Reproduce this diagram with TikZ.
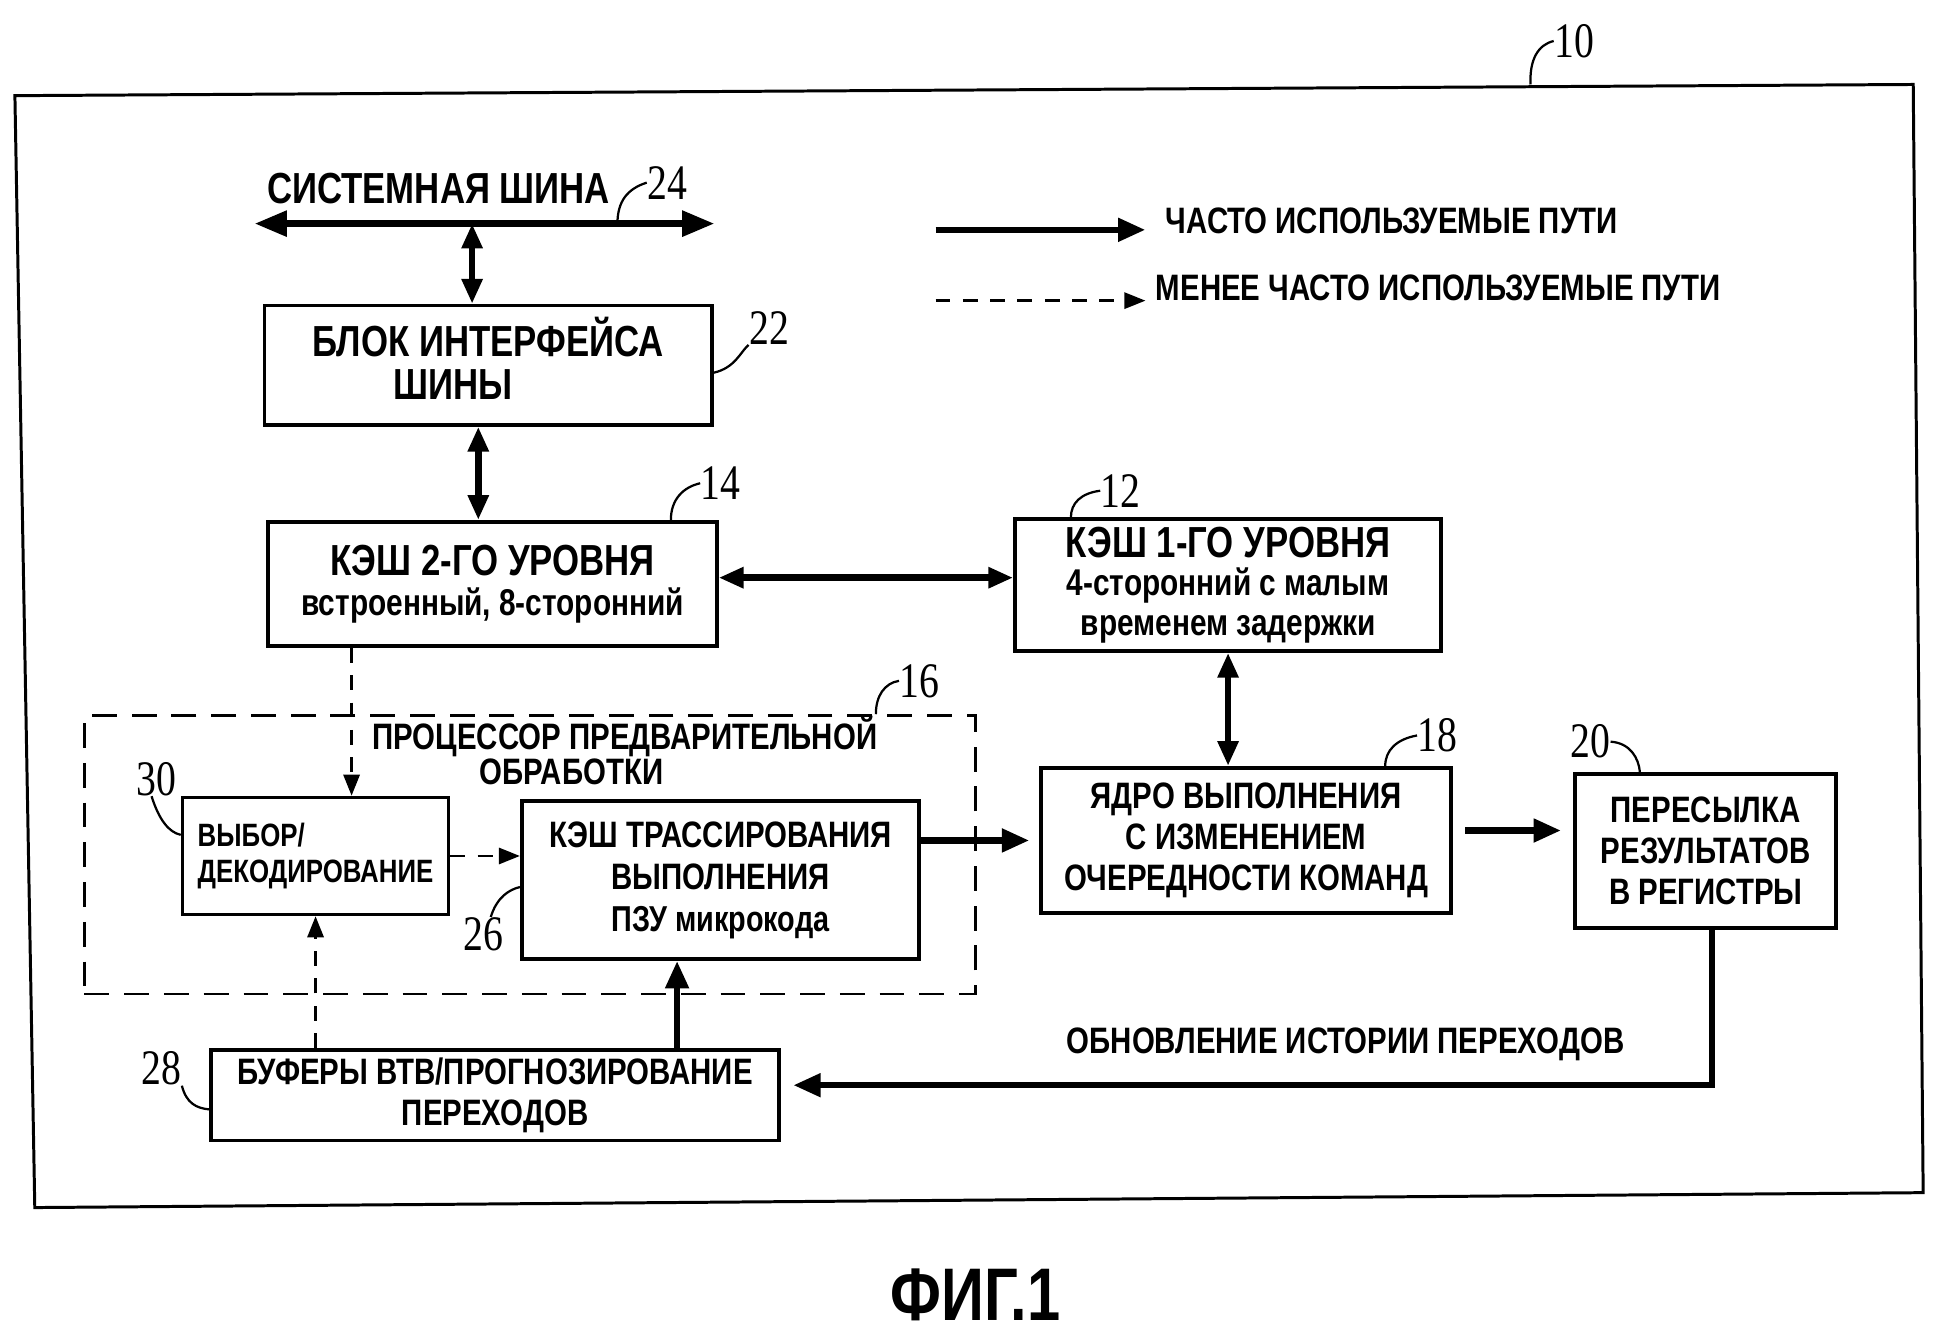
\documentclass[tikz,border=0pt]{standalone}
\usepackage{fontspec}
\setmainfont{Liberation Sans}[FakeStretch=0.8]
\newfontfamily\numfont{Liberation Serif}[FakeStretch=0.8]
\usetikzlibrary{arrows.meta}
\tikzset{
 box/.style={draw, line width=1.5pt, inner sep=0pt, align=center, font=\bfseries\fontsize{14.8}{16.5}\selectfont},
 thk/.style={line width=2.6pt, -{Triangle[length=11pt,width=9pt]}},
 dbl/.style={line width=2.6pt, {Triangle[length=10pt,width=8pt]}-{Triangle[length=10pt,width=8pt]}},
 busarr/.style={line width=2.6pt, {Triangle[length=13pt,width=10pt]}-{Triangle[length=13pt,width=10pt]}},
 dsh/.style={line width=1.1pt, dash pattern=on 6pt off 5pt, -{Triangle[length=8.5pt,width=6.5pt]}},
 frame16/.style={draw, line width=1.1pt, dash pattern=on 10pt off 6pt, inner sep=0pt},
 num/.style={font=\numfont\fontsize{20}{20}\selectfont, inner sep=0pt},
 lead/.style={line width=0.9pt},
 lbl/.style={font=\bfseries\fontsize{14.8}{14}\selectfont, inner sep=0pt, align=center},
}
\begin{document}
\begin{tikzpicture}[x=0.5pt,y=-0.5pt]
\useasboundingbox (0,0) rectangle (1568,1075);
% outer frame 10
\draw[line width=1.2pt] (12,77) -- (1540,68) -- (1548,960) -- (28,972) -- cycle;
\node[num] (n10) at (1267,33) {10};
\draw[lead] (1232,68) .. controls (1231,48) and (1238,36) .. (n10.west);

% system bus
\node[lbl, font=\bfseries\fontsize{17.5}{17.5}\selectfont] (sysbus) at (353,152) {СИСТЕМНАЯ ШИНА};
\coordinate (busL) at (205,180);
\coordinate (busR) at (575,180);
\coordinate (busJ) at (380,180);
\draw[busarr] (busL) -- (busR);
\node[num] (n24) at (537,147) {24};
\draw[lead] (497,180) .. controls (497,162) and (505,152) .. (n24.west);

% legend
\coordinate (lgA1) at (753,185);
\coordinate (lgA2) at (922,185);
\draw[thk] (lgA1) -- (lgA2);
\node[lbl, anchor=west] (lgT1) at (938,178) {ЧАСТО ИСПОЛЬЗУЕМЫЕ ПУТИ};
\coordinate (lgB1) at (753,242);
\coordinate (lgB2) at (922,242);
\draw[dsh] (lgB1) -- (lgB2);
\node[lbl, anchor=west] (lgT2) at (930,232) {МЕНЕЕ ЧАСТО ИСПОЛЬЗУЕМЫЕ ПУТИ};

% box 22
\node[box, minimum width=180pt, minimum height=48pt, font=\bfseries\fontsize{17.5}{17.5}\selectfont] (b22) at (393,294) {БЛОК ИНТЕРФЕЙСА\\ШИНЫ\hspace{28pt}\mbox{}\\[-12pt]\mbox{}};
\node[num] (n22) at (619,264) {22};
\draw[lead] ([yshift=-3pt]b22.east) .. controls (592,296) and (596,283) .. (n22.south west);

% box 14
\node[box, minimum width=180.5pt, minimum height=50pt, font=\bfseries\fontsize{17.5}{16}\selectfont] (b14) at (396.5,470) {КЭШ 2-ГО УРОВНЯ\\{\fontsize{15}{16}\selectfont встроенный, 8-сторонний}};
\node[num] (n14) at (580,389) {14};
\draw[lead] ([xshift=71.75pt]b14.north) .. controls (540,402) and (550,392) .. (n14.west);

% box 12
\node[box, minimum width=171.5pt, minimum height=53pt, font=\bfseries\fontsize{17.5}{16}\selectfont] (b12) at (988.5,471) {КЭШ 1-ГО УРОВНЯ\\[-0.8pt]{\fontsize{15}{16}\selectfont 4-сторонний с малым}\\{\fontsize{15}{16}\selectfont временем задержки}};
\node[num] (n12) at (902,395) {12};
\draw[lead] ([xshift=-63.25pt]b12.north) .. controls (862,405) and (870,397) .. (n12.west);

% box 18
\node[box, minimum width=165pt, minimum height=58.5pt] (b18) at (1003,676.5) {ЯДРО ВЫПОЛНЕНИЯ\\С ИЗМЕНЕНИЕМ\\ОЧЕРЕДНОСТИ КОМАНД};
\node[num] (n18) at (1157,592) {18};
\draw[lead] ([xshift=56pt]b18.north) .. controls (1115,604) and (1124,595) .. (n18.west);

% box 20
\node[box, minimum width=105pt, minimum height=62pt] (b20) at (1373,685) {ПЕРЕСЫЛКА\\РЕЗУЛЬТАТОВ\\В РЕГИСТРЫ};
\node[num] (n20) at (1280,597) {20};
\draw[lead] (n20.east) .. controls (1312,598) and (1319,610) .. ([xshift=-26.5pt]b20.north);

% front-end frame 16
\node[frame16, minimum width=358.5pt, minimum height=112pt] (b16) at (426.5,688) {};
\node[lbl] (t16) at (503,604) {ПРОЦЕССОР ПРЕДВАРИТЕЛЬНОЙ\\ОБРАБОТКИ\hspace{43pt}\mbox{}};
\node[num] (n16) at (740,548) {16};
\draw[lead] ([xshift=139.25pt]b16.north) .. controls (705,560) and (712,550) .. (n16.west);

% box 30
\node[box, minimum width=107pt, minimum height=47pt, align=left, font=\bfseries\fontsize{13}{14.5}\selectfont] (b30) at (254,689) {ВЫБОР/\\ДЕКОДИРОВАНИЕ};
\node[num] (n30) at (126,627) {30};
\draw[lead] ([xshift=-2pt]n30.south) .. controls (128,660) and (136,670) .. ([yshift=8.5pt]b30.west);

% box 26
\node[box, minimum width=160pt, minimum height=63.5pt, font=\bfseries\fontsize{14.8}{17}\selectfont] (b26) at (580,708.5) {КЭШ ТРАССИРОВАНИЯ\\ВЫПОЛНЕНИЯ\\{\fontsize{14.5}{17}\selectfont ПЗУ микрокода}};
\node[num] (n26) at (389,752) {26};
\draw[lead] ([xshift=3pt]n26.north) .. controls (400,722) and (410,716) .. ([yshift=-2.75pt]b26.west);

% box 28
\node[box, minimum width=228.5pt, minimum height=36.5pt] (b28) at (398.5,881.5) {БУФЕРЫ ВТВ/ПРОГНОЗИРОВАНИЕ\\ПЕРЕХОДОВ};
\node[num] (n28) at (130,860) {28};
\draw[lead] (n28.south east) .. controls (150,888) and (158,892) .. ([yshift=-5.75pt]b28.west);

% connectors
\draw[dbl] (busJ) -- (busJ |- b22.north);
\draw[dbl] ([xshift=-4pt]b22.south) -- ([xshift=-4pt]b22.south |- b14.north);
\draw[dbl] ([yshift=2.5pt]b14.east) -- ([yshift=2.5pt]b14.east -| b12.west);
\draw[dbl] (b12.south) -- (b12.south |- b18.north);
\draw[thk, shorten >=4pt] (b26.east |- b18.west) -- (b18.west);
\draw[thk, shorten <=5pt, shorten >=5pt] ([yshift=4pt]b18.east) -- ([yshift=4pt]b18.east -| b20.west);
\draw[thk, shorten >=5pt] ([xshift=2.5pt]b20.south) |- ([yshift=4pt]b28.east);
\node[lbl] (fbT) at (1083,841) {ОБНОВЛЕНИЕ ИСТОРИИ ПЕРЕХОДОВ};
\draw[thk] ([xshift=73.25pt]b28.north) -- ([xshift=73.25pt]b28.north |- b26.south);
\draw[dsh] (b30.south |- b28.north) -- (b30.south);
\draw[dsh] (b30.east) -- (b30.east -| b26.west);
\draw[dsh] ([xshift=14.5pt]b30.north |- b14.south) -- ([xshift=14.5pt]b30.north);

% caption
\node[inner sep=0pt, font=\bfseries\fontsize{30}{30}\selectfont] (fig) at (785,1042) {ФИГ.1};
\end{tikzpicture}
\end{document}
